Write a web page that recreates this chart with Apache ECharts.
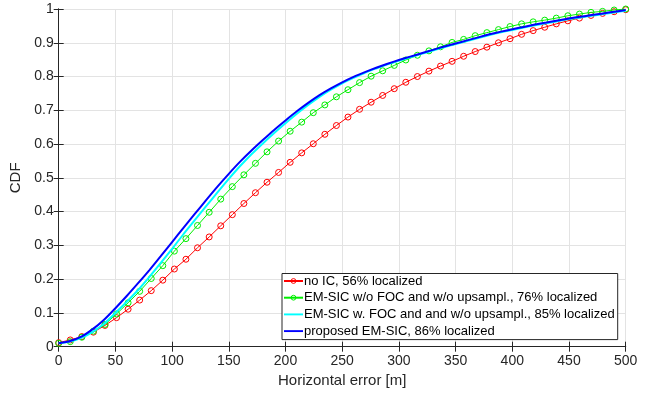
<!DOCTYPE html>
<html>
<head>
<meta charset="utf-8">
<script src="https://cdn.jsdelivr.net/npm/echarts@6/dist/echarts.min.js"></script>
<style>html,body{margin:0;padding:0;background:#fff;}#c{width:659px;height:394px;}</style>
</head>
<body>
<div id="c"></div>
<script>
// Marker x positions (m) for the two marked curves
const markX = [0, 10.2, 20.4, 30.6, 40.8, 51.0, 61.2, 71.4, 81.6, 91.8,
  102.0, 112.2, 122.4, 132.7, 142.9, 153.1, 163.3, 173.5, 183.7, 193.9,
  204.1, 214.3, 224.5, 234.7, 244.9, 255.1, 265.3, 275.5, 285.7, 295.9,
  306.1, 316.3, 326.5, 336.7, 346.9, 357.1, 367.3, 377.6, 387.8, 398.0,
  408.2, 418.4, 428.6, 438.8, 449.0, 459.2, 469.4, 479.6, 489.8, 500];
const noIC = [0.012, 0.020, 0.030, 0.043, 0.063, 0.086, 0.111, 0.138, 0.166, 0.197,
  0.230, 0.259, 0.293, 0.325, 0.358, 0.391, 0.424, 0.456, 0.487, 0.516,
  0.546, 0.574, 0.601, 0.629, 0.655, 0.680, 0.703, 0.724, 0.744, 0.764,
  0.783, 0.800, 0.816, 0.831, 0.845, 0.860, 0.874, 0.887, 0.900, 0.912,
  0.925, 0.936, 0.946, 0.956, 0.965, 0.973, 0.981, 0.987, 0.992, 0.998];
const emWoFoc = [0.010, 0.015, 0.028, 0.046, 0.066, 0.097, 0.130, 0.164, 0.202, 0.240,
  0.283, 0.320, 0.359, 0.398, 0.437, 0.474, 0.509, 0.543, 0.577, 0.609,
  0.638, 0.665, 0.693, 0.716, 0.740, 0.761, 0.782, 0.801, 0.817, 0.833,
  0.849, 0.863, 0.876, 0.888, 0.901, 0.910, 0.921, 0.930, 0.939, 0.948,
  0.956, 0.962, 0.967, 0.973, 0.980, 0.985, 0.990, 0.993, 0.997, 1.000];
// Line-only curves (x every 10 m)
const lineX = [0, 10, 20, 30, 40, 50, 60, 70, 80, 90,
  100, 110, 120, 130, 140, 150, 160, 170, 180, 190,
  200, 210, 220, 230, 240, 250, 260, 270, 280, 290,
  300, 310, 320, 330, 340, 350, 360, 370, 380, 390,
  400, 410, 420, 430, 440, 450, 460, 470, 480, 490, 500];
const emWFoc = [0.010, 0.015, 0.026, 0.044, 0.068, 0.100, 0.133, 0.168, 0.207, 0.248,
  0.290, 0.333, 0.375, 0.416, 0.457, 0.497, 0.535, 0.570, 0.602, 0.633,
  0.662, 0.690, 0.716, 0.740, 0.761, 0.780, 0.796, 0.811, 0.824, 0.836,
  0.847, 0.857, 0.867, 0.877, 0.887, 0.896, 0.905, 0.914, 0.923, 0.931,
  0.938, 0.945, 0.952, 0.958, 0.964, 0.970, 0.975, 0.980, 0.985, 0.990, 0.995];
const proposed = [0.010, 0.017, 0.030, 0.052, 0.080, 0.114, 0.150, 0.188, 0.227, 0.268,
  0.310, 0.352, 0.393, 0.434, 0.474, 0.512, 0.548, 0.581, 0.612, 0.642,
  0.670, 0.697, 0.722, 0.745, 0.765, 0.783, 0.799, 0.813, 0.826, 0.838,
  0.849, 0.859, 0.869, 0.879, 0.889, 0.898, 0.907, 0.916, 0.925, 0.933,
  0.940, 0.947, 0.954, 0.960, 0.966, 0.972, 0.977, 0.982, 0.987, 0.992, 0.997];
const seriesNames = ['no IC, 56% localized',
  'EM-SIC w/o FOC and w/o upsampl., 76% localized',
  'EM-SIC w. FOC and and w/o upsampl., 85% localized',
  'proposed EM-SIC, 86% localized'];
const xTicks = [0, 50, 100, 150, 200, 250, 300, 350, 400, 450, 500];
const yTicks = [0, 0.1, 0.2, 0.3, 0.4, 0.5, 0.6, 0.7, 0.8, 0.9, 1];

const pair = (xs, ys) => xs.map((x, i) => [x, ys[i]]);
const FONT = 'Liberation Sans, Arial, Helvetica, sans-serif';
const AX = '#262626';
const RED = '#ff0000', GREEN = '#00ee00', CYAN = '#00ffff', BLUE = '#0000ff';

const chart = echarts.init(document.getElementById('c'), null, {renderer: 'canvas'});
const baseAxis = {
  axisLine: {show: true, lineStyle: {color: AX, width: 1}},
  axisTick: {show: true, inside: true, length: 5, lineStyle: {color: AX}},
};
const lineIcon = 'path://M0,0L40,0L40,4L0,4Z';
chart.setOption({
  animation: false,
  backgroundColor: '#fff',
  textStyle: {fontFamily: FONT},
  grid: {left: 58.7, right: 33.3, top: 9, bottom: 47.3, containLabel: false},
  xAxis: [
    Object.assign({}, baseAxis, {
      type: 'value', min: xTicks[0], max: xTicks[xTicks.length - 1], interval: 50,
      position: 'bottom',
      name: 'Horizontal error [m]', nameLocation: 'middle', nameGap: 27,
      nameTextStyle: {fontSize: 15, color: AX, fontFamily: FONT},
      axisLabel: {fontSize: 14, color: AX, margin: 7, fontFamily: FONT},
      splitLine: {show: true, lineStyle: {color: '#e3e3e3', width: 1}}
    }),
    Object.assign({}, baseAxis, {
      type: 'value', min: 0, max: 500, interval: 50, position: 'top',
      axisLabel: {show: false}, splitLine: {show: false}
    })
  ],
  yAxis: [
    Object.assign({}, baseAxis, {
      type: 'value', min: yTicks[0], max: yTicks[yTicks.length - 1], interval: 0.1,
      position: 'left',
      name: 'CDF', nameLocation: 'middle', nameGap: 29,
      nameTextStyle: {fontSize: 15, color: AX, fontFamily: FONT},
      axisLabel: {fontSize: 14, color: AX, margin: 5, fontFamily: FONT},
      splitLine: {show: true, lineStyle: {color: '#e3e3e3', width: 1}}
    }),
    Object.assign({}, baseAxis, {
      type: 'value', min: 0, max: 1, interval: 0.1, position: 'right',
      axisLabel: {show: false}, splitLine: {show: false}
    })
  ],
  legend: {
    orient: 'vertical', left: 282, top: 273.5,
    padding: [1, 3, 2, 1],
    itemWidth: 19, itemHeight: 6, itemGap: 3.7,
    borderColor: AX, borderWidth: 1, backgroundColor: '#fff',
    textStyle: {fontSize: 13, color: '#000', fontFamily: FONT, lineHeight: 13, padding: [0,0,0,-4]},
    data: [
      {name: seriesNames[0], itemStyle: {color: 'rgba(255,255,255,0)', borderColor: RED, borderWidth: 1}},
      {name: seriesNames[1], itemStyle: {color: 'rgba(255,255,255,0)', borderColor: GREEN, borderWidth: 1}},
      {name: seriesNames[2], icon: lineIcon, itemStyle: {color: CYAN}},
      {name: seriesNames[3], icon: lineIcon, itemStyle: {color: BLUE}}
    ]
  },
  series: [
    {
      name: seriesNames[0], type: 'line', data: pair(markX, noIC),
      symbol: 'circle', symbolSize: 6, showSymbol: true,
      lineStyle: {color: RED, width: 1},
      itemStyle: {color: 'rgba(255,255,255,0)', borderColor: RED, borderWidth: 1},
      z: 2
    },
    {
      name: seriesNames[1], type: 'line', data: pair(markX, emWoFoc),
      symbol: 'circle', symbolSize: 6, showSymbol: true,
      lineStyle: {color: GREEN, width: 1},
      itemStyle: {color: 'rgba(255,255,255,0)', borderColor: GREEN, borderWidth: 1},
      z: 3
    },
    {
      name: seriesNames[2], type: 'line', data: pair(lineX, emWFoc),
      symbol: 'none', smooth: 0.2,
      lineStyle: {color: CYAN, width: 2},
      itemStyle: {color: CYAN},
      z: 4
    },
    {
      name: seriesNames[3], type: 'line', data: pair(lineX, proposed),
      symbol: 'none', smooth: 0.2,
      lineStyle: {color: BLUE, width: 2},
      itemStyle: {color: BLUE},
      z: 5
    }
  ]
});
</script>
</body>
</html>
